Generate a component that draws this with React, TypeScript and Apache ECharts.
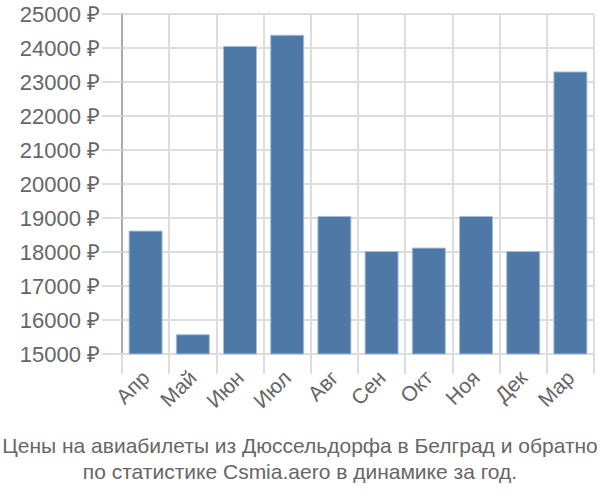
import React, { useEffect, useRef } from "react";
import * as echarts from "echarts";

const months = ["Апр", "Май", "Июн", "Июл", "Авг", "Сен", "Окт", "Ноя", "Дек", "Мар"];
const prices = [18630, 15580, 24060, 24390, 19060, 18030, 18130, 19060, 18030, 23310];
const titleLines = [
  "Цены на авиабилеты из Дюссельдорфа в Белград и обратно",
  "по статистике Csmia.aero в динамике за год.",
];

export default function App() {
  const ref = useRef<HTMLDivElement>(null);
  useEffect(() => {
    const chart = echarts.init(ref.current!, null, { renderer: "svg" });
    const font = "'Liberation Sans', Arial, sans-serif";
    chart.setOption({
      animation: false,
      title: {
        text: titleLines.join("\n"),
        left: "center",
        top: 427,
        textStyle: { color: "#666", fontSize: 21, fontWeight: "normal", fontFamily: font, lineHeight: 26 },
      },
      grid: { left: 122, right: 6, top: 14, bottom: 146, containLabel: false },
      xAxis: {
        type: "category",
        data: months,
        boundaryGap: true,
        axisLine: { show: true, lineStyle: { color: "#ddd", width: 2 } },
        axisTick: { show: true, length: 20, lineStyle: { color: "#ddd", width: 2 } },
        splitLine: { show: true, lineStyle: { color: "#ddd", width: 2 } },
        axisLabel: { rotate: 45, color: "#666", fontSize: 21, fontFamily: font, margin: 20 },
      },
      yAxis: {
        type: "value",
        min: 15000,
        max: 25000,
        interval: 1000,
        axisLine: { show: true, lineStyle: { color: "#aaa", width: 2 } },
        axisTick: { show: true, length: 20, lineStyle: { color: "#ddd", width: 2 } },
        splitLine: { show: true, lineStyle: { color: "#ddd", width: 2 } },
        axisLabel: { color: "#666", fontSize: 22, fontFamily: font, margin: 22, formatter: (v: number) => v + " ₽" },
      },
      series: [
        {
          type: "bar",
          data: prices,
          barCategoryGap: "28%",
          itemStyle: { color: "#4e78a5", borderColor: "#a6bdd6", borderWidth: 1 },
        },
      ],
    });
    return () => chart.dispose();
  }, []);
  return <div ref={ref} style={{ width: 600, height: 500, position: "absolute", left: 0, top: 0 }} />;
}
